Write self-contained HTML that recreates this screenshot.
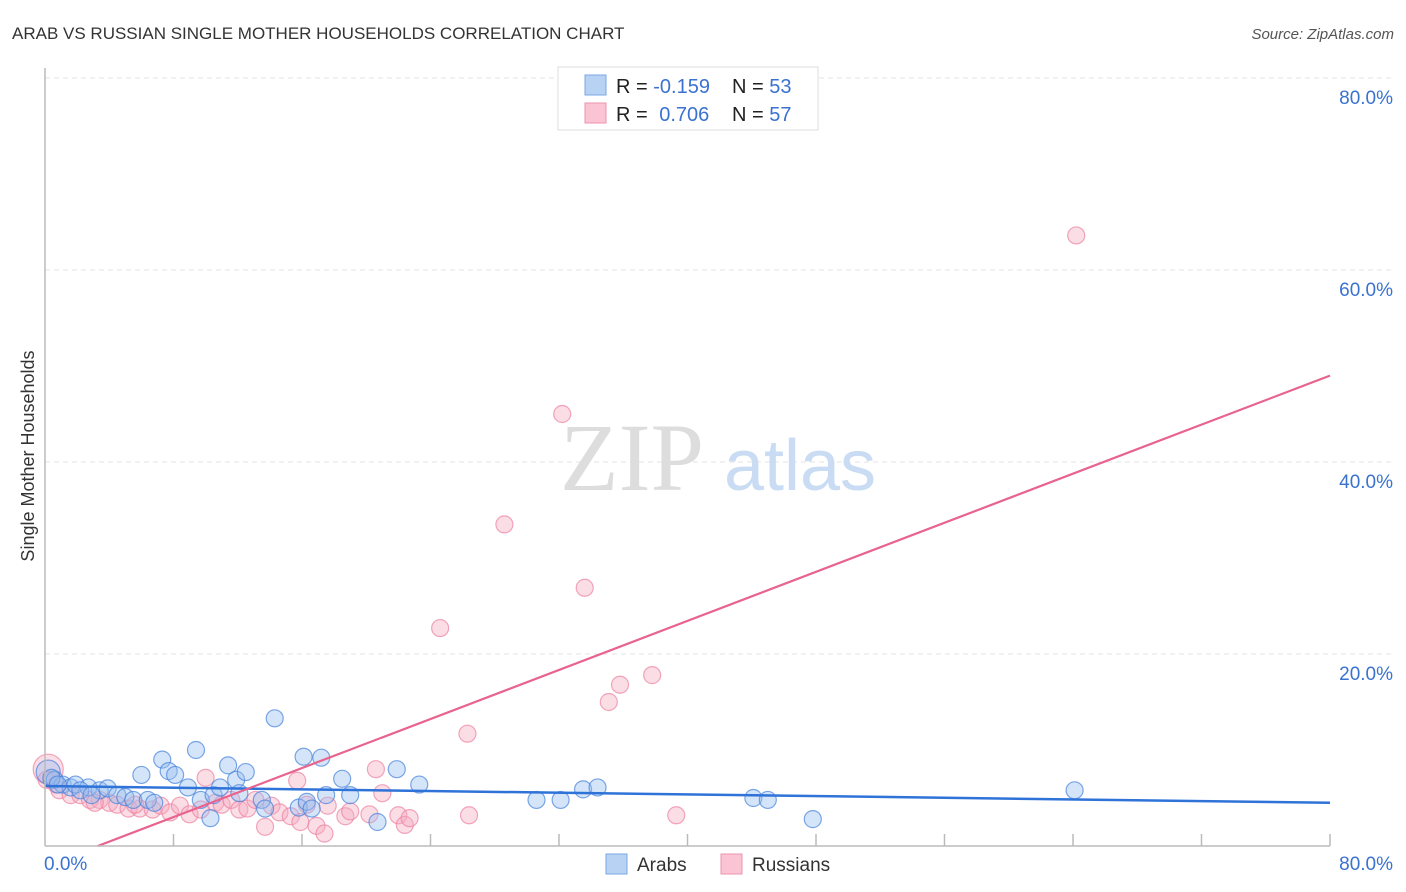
<!DOCTYPE html>
<html><head><meta charset="utf-8"><style>
body{margin:0;background:#fff;font-family:"Liberation Sans",sans-serif;}
svg{display:block}
</style></head><body>
<svg width="1406" height="892" xmlns="http://www.w3.org/2000/svg">
<text x="12" y="39" font-size="17" fill="#333">ARAB VS RUSSIAN SINGLE MOTHER HOUSEHOLDS CORRELATION CHART</text>
<text x="1394" y="39" font-size="15" fill="#555" font-style="italic" text-anchor="end">Source: ZipAtlas.com</text>
<g id="grid"></g>
<text x="632" y="490" font-size="96" fill="#ddd" font-family="Liberation Serif,serif" text-anchor="middle">ZIP</text>
<text x="800" y="490" font-size="72" fill="#c9dcf3" text-anchor="middle">atlas</text>
<g id="points"></g>
<g id="lines"></g>
<line x1="45" y1="68" x2="45" y2="846" stroke="#bbb" stroke-width="1.5"/>
<line x1="45" y1="846" x2="1330" y2="846" stroke="#bbb" stroke-width="1.5"/>
<text x="44" y="870" font-size="19" fill="#3a72d0">0.0%</text>
<text x="1393" y="870" font-size="19" fill="#3a72d0" text-anchor="end">80.0%</text>
<text transform="translate(34,456) rotate(-90)" font-size="18" fill="#333" text-anchor="middle">Single Mother Households</text>
<g>
<rect x="558" y="67" width="260" height="63" fill="#fff" stroke="#ddd"/>
<rect x="585" y="75" width="21" height="20" fill="#b8d2f3" stroke="#7aa7e6"/>
<rect x="585" y="103" width="21" height="20" fill="#fac4d4" stroke="#ee93ae"/>
<text x="616" y="93" font-size="20" fill="#222">R = <tspan fill="#3a72d0">-0.159</tspan><tspan x="732">N = </tspan><tspan fill="#3a72d0">53</tspan></text>
<text x="616" y="121" font-size="20" fill="#222">R = <tspan fill="#3a72d0" dx="6">0.706</tspan><tspan x="732">N = </tspan><tspan fill="#3a72d0">57</tspan></text>
</g>
<g>
<rect x="606" y="854" width="21" height="20" fill="#b8d2f3" stroke="#7aa7e6"/>
<text x="637" y="871" font-size="19" fill="#333">Arabs</text>
<rect x="721" y="854" width="21" height="20" fill="#fac4d4" stroke="#ee93ae"/>
<text x="752" y="871" font-size="19" fill="#333">Russians</text>
</g>
</svg>
<script>
const yTicks=[20,40,60,80];
const xTickMarks=[8,16,24,32,40,48,56,64,72,80];
// Arabs [x%, y%]
const arabX=[0.2,0.6,1.1,1.6,1.9,2.7,3.4,3.9,4.5,5.0,5.5,6.0,6.4,6.8,7.3,7.7,8.1,8.9,9.4,9.7,10.3,10.5,10.9,11.4,11.9,12.1,12.5,13.5,13.7,14.3,15.8,16.1,16.3,16.6,17.2,17.5,18.5,19.0,20.7,21.9,23.3,30.6,32.1,33.5,34.4,44.1,45.0,47.8,64.1,0.4,0.8,2.2,2.9];
const arabY=[7.7,6.9,6.4,6.1,6.4,6.1,5.8,6.0,5.3,5.1,4.8,7.4,4.8,4.5,9.0,7.8,7.4,6.1,10.0,4.8,2.9,5.3,6.1,8.4,6.9,5.5,7.7,4.8,3.9,13.3,4.0,9.3,4.6,3.9,9.2,5.3,7.0,5.3,2.5,8.0,6.4,4.8,4.8,5.9,6.1,5.0,4.8,2.8,5.8,7.1,6.4,5.8,5.3];
// Russians
const rusX=[0.2,0.4,0.9,1.6,2.2,2.8,3.4,4.0,4.5,5.2,5.9,6.7,7.2,7.8,8.4,9.0,9.7,10.0,10.6,11.0,11.6,12.1,12.6,13.1,13.7,14.1,14.6,15.3,15.7,15.9,16.3,16.9,17.4,17.6,18.7,19.0,20.2,20.6,21.0,22.0,22.4,22.7,24.6,26.3,26.4,28.6,32.2,33.6,35.1,35.8,37.8,39.3,64.2,0.1,0.7,3.1,5.6];
const rusY=[8.0,6.9,5.8,5.3,5.3,4.8,4.8,4.5,4.3,3.9,3.9,3.8,4.2,3.5,4.2,3.3,3.8,7.1,4.5,4.3,4.8,3.8,3.9,4.8,2.0,4.2,3.5,3.1,6.8,2.5,4.3,2.1,1.3,4.2,3.1,3.6,3.3,8.0,5.5,3.2,2.2,2.9,22.7,11.7,3.2,33.5,45.0,26.9,15.0,16.8,17.8,3.2,63.6,6.9,6.4,4.5,4.3];
const arabLine=[6.25,4.5]; // y% at x=0 and x=80
const rusLine=[-2.1,49.0];

const NS="http://www.w3.org/2000/svg";
const X=v=>45+v*(1285/80);
const Y=v=>846-v*9.6;
function mk(t,a,p){const e=document.createElementNS(NS,t);for(const k in a)e.setAttribute(k,a[k]);p.appendChild(e);return e;}
const grid=document.getElementById('grid');
yTicks.forEach(t=>{
  const l=mk('line',{x1:45,x2:1393,y1:Y(t),y2:Y(t),stroke:'#e3e3e3','stroke-dasharray':'5,4'},grid);
  
  
  const tx=mk('text',{x:1393,y:Y(t)+26,'font-size':19,fill:'#3a72d0','text-anchor':'end'},grid);
  tx.textContent=t.toFixed(1)+'%';
  
  
});
xTickMarks.forEach(t=>{
  const l=mk('line',{x1:X(t),x2:X(t),y1:834,y2:846,stroke:'#bbb','stroke-width':1.5},grid);
  
  
});
const pts=document.getElementById('points');
rusX.forEach((x,i)=>{
  const c=mk('circle',{cx:X(x),cy:Y(rusY[i]),r:i==0?15:8.5,fill:'rgba(246,170,192,0.4)',stroke:'rgba(236,130,160,0.7)','stroke-width':1.2},pts);
  
  
});
arabX.forEach((x,i)=>{
  const c=mk('circle',{cx:X(x),cy:Y(arabY[i]),r:i==0?12:8.5,fill:'rgba(150,190,240,0.4)',stroke:'rgba(70,130,220,0.7)','stroke-width':1.2},pts);
  
  
});
const ln=document.getElementById('lines');
const b=mk('line',{x1:X(0),y1:Y(arabLine[0]),x2:X(80),y2:Y(arabLine[1]),stroke:'#2f73d8','stroke-width':2.5},ln);


// clip pink line at y=0
const x0=-rusLine[0]/(rusLine[1]-rusLine[0])*80;
const p=mk('line',{x1:X(x0),y1:Y(0),x2:X(80),y2:Y(rusLine[1]),stroke:'#e8638e','stroke-width':2.2},ln);


</script>
</body></html>
